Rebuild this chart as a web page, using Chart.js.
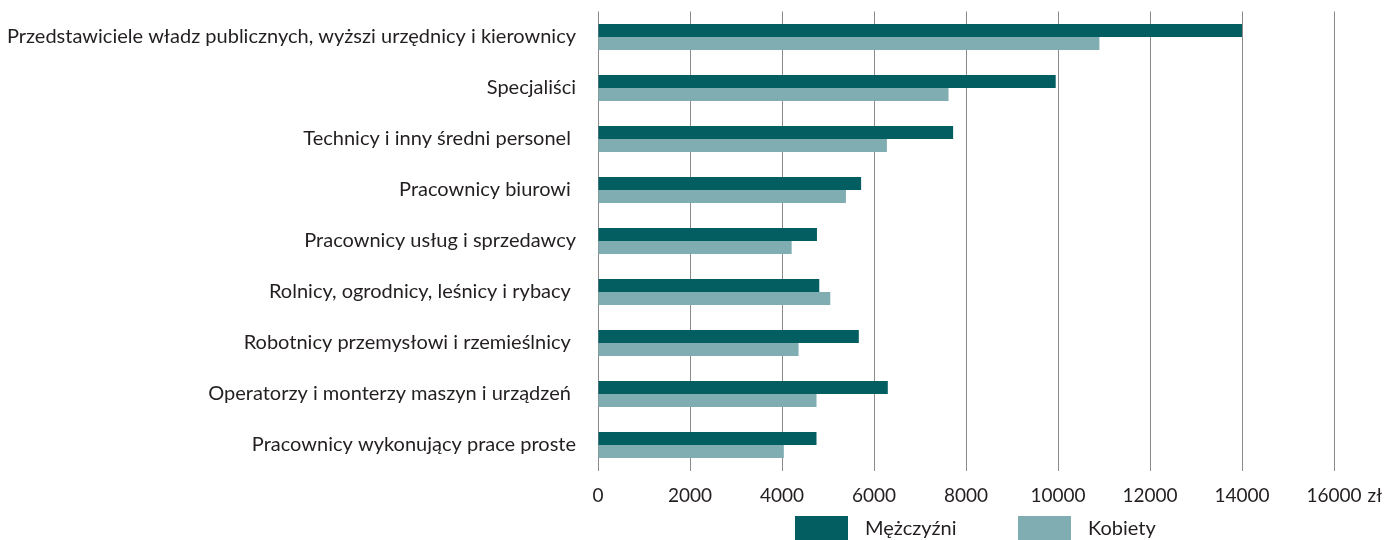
<!DOCTYPE html>
<html>
<head>
<meta charset="utf-8">
<script src="https://cdn.jsdelivr.net/npm/chart.js@4"></script>
<style>
  html, body { margin: 0; padding: 0; background: #fff; }
  #wrap { width: 1390px; height: 540px; }
</style>
</head>
<body>
<div id="wrap"><canvas id="chart"></canvas></div>
<script>
const categories = [
  "Przedstawiciele władz publicznych, wyższi urzędnicy i kierownicy",
  "Specjaliści",
  "Technicy i inny średni personel ",
  "Pracownicy biurowi ",
  "Pracownicy usług i sprzedawcy",
  "Rolnicy, ogrodnicy, leśnicy i rybacy ",
  "Robotnicy przemysłowi i rzemieślnicy ",
  "Operatorzy i monterzy maszyn i urządzeń ",
  "Pracownicy wykonujący prace proste",
];
const men = [14000, 9950, 7720, 5720, 4760, 4810, 5670, 6300, 4750];
const women = [10900, 7620, 6280, 5390, 4210, 5050, 4360, 4750, 4040];
const xTicks = [0, 2000, 4000, 6000, 8000, 10000, 12000, 14000, 16000];
const unit = "zł";

const textColor = "#231f20";
const fontFamily = "Lato, 'Open Sans', sans-serif";

// writes the currency unit after the last tick label
const unitLabel = {
  id: "unitLabel",
  afterDraw(chart) {
    const x = chart.scales.x;
    const ctx = chart.ctx;
    const last = xTicks[xTicks.length - 1];
    const px = x.getPixelForValue(last);
    ctx.save();
    ctx.font = "19px " + fontFamily;
    const w = ctx.measureText(String(last)).width;
    ctx.fillStyle = textColor;
    ctx.textAlign = "left";
    ctx.textBaseline = "middle";
    ctx.fillText(unit, px + w / 2 + 6, chart.chartArea.bottom + 14 + 11);
    ctx.restore();
  },
};

// legend below the axis, with wide boxes
const bottomLegend = {
  id: "bottomLegend",
  afterDraw(chart) {
    const ctx = chart.ctx;
    const starts = [795, 1018];
    ctx.save();
    ctx.font = "20px " + fontFamily;
    ctx.textBaseline = "middle";
    ctx.textAlign = "left";
    chart.data.datasets.forEach((ds, i) => {
      ctx.fillStyle = ds.backgroundColor;
      ctx.fillRect(starts[i], 516, 53, 26);
      ctx.fillStyle = textColor;
      ctx.fillText(ds.label, starts[i] + 70, 529);
    });
    ctx.restore();
  },
};

new Chart(document.getElementById("chart"), {
  type: "bar",
  data: {
    labels: categories,
    datasets: [
      {
        label: "Mężczyźni",
        data: men,
        backgroundColor: "#035e62",
        categoryPercentage: 0.51,
        barPercentage: 1,
      },
      {
        label: "Kobiety",
        data: women,
        backgroundColor: "#80adb1",
        categoryPercentage: 0.51,
        barPercentage: 1,
      },
    ],
  },
  options: {
    indexAxis: "y",
    responsive: true,
    maintainAspectRatio: false,
    animation: false,
    layout: {
      padding: { top: 11.5, right: 56, left: 0, bottom: 25.5 },
    },
    plugins: {
      tooltip: { enabled: false },
      legend: { display: false },
    },
    scales: {
      x: {
        min: 0,
        max: 16000,
        afterBuildTicks: (s) => {
          s.ticks = xTicks.map((v) => ({ value: v }));
        },
        afterFit: (s) => {
          s.height = 44;
        },
        grid: {
          color: "#8a8a8a",
          lineWidth: 1,
          drawTicks: false,
        },
        border: { display: false },
        ticks: {
          color: textColor,
          padding: 14,
          maxRotation: 0,
          callback: (v) => String(v),
          font: { family: fontFamily, size: 19 },
        },
      },
      y: {
        afterFit: (s) => {
          s.width = 598;
          s.paddingTop = 0;
          s.paddingBottom = 0;
        },
        grid: { display: false, drawTicks: false },
        border: { display: false },
        ticks: {
          color: textColor,
          padding: 22,
          font: { family: fontFamily, size: 20 },
        },
      },
    },
  },
  plugins: [unitLabel, bottomLegend],
});
</script>
</body>
</html>
